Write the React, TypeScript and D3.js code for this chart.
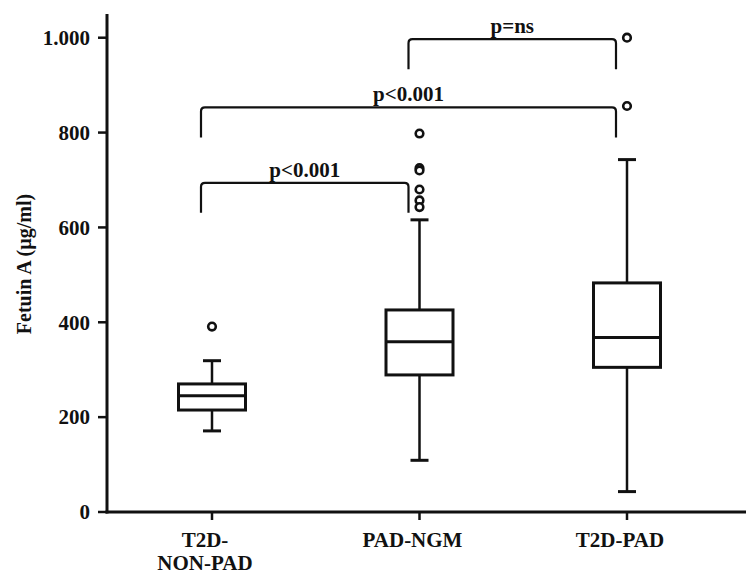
import React from "react";
import * as d3 from "d3";

const categories = ["T2D-NON-PAD", "PAD-NGM", "T2D-PAD"];
const categoryLabels = [["T2D-", "NON-PAD"], ["PAD-NGM"], ["T2D-PAD"]];
const whiskerLow = [171, 109, 43];
const q1Values = [215, 289, 305];
const medians = [245, 359, 368];
const q3Values = [270, 426, 483];
const whiskerHigh = [319, 616, 743];
const outliers = [[391], [798, 725, 720, 680, 657, 643], [1000, 856]];
const yTicks = [0, 200, 400, 600, 800, 1000];
const yTickLabels = ["0", "200", "400", "600", "800", "1.000"];
const yTitle = "Fetuin A (µg/ml)";
const compFrom = ["PAD-NGM", "T2D-NON-PAD", "T2D-NON-PAD"];
const compTo = ["T2D-PAD", "T2D-PAD", "PAD-NGM"];
const compLevel = [997, 853, 694];
const compLabel = ["p=ns", "p<0.001", "p<0.001"];

const W = 746;
const H = 576;
const FONT = "'Liberation Serif', 'Times New Roman', serif";
const INK = "#111";

export default function App() {
  const axisX = 107;
  const axisY = 512;
  const y = d3.scaleLinear().domain([0, 1050]).range([axisY, 14]);
  const x = d3.scalePoint<string>().domain(categories).range([212, 627]);
  const boxW = 67;
  const capW = 18;
  const legLen = 30;
  const bOff = -11;
  const r = 4;

  const bracketPath = (x1: number, x2: number, yt: number) => {
    const yb = yt + legLen;
    return `M${x1},${yb} L${x1},${yt + r} Q${x1},${yt} ${x1 + r},${yt} L${x2 - r},${yt} Q${x2},${yt} ${x2},${yt + r} L${x2},${yb}`;
  };

  return (
    <svg
      width={W}
      height={H}
      viewBox={`0 0 ${W} ${H}`}
      style={{ position: "absolute", left: 0, top: 0, background: "#fff" }}
      fontFamily={FONT}
      fontWeight="bold"
    >
      <rect x={0} y={0} width={W} height={H} fill="#fff" />
      {/* axes */}
      <line x1={axisX} x2={axisX} y1={y(1050)} y2={axisY + 1.5} stroke={INK} strokeWidth={3} />
      <line x1={axisX - 1.5} x2={W} y1={axisY} y2={axisY} stroke={INK} strokeWidth={3} />
      {yTicks.map((t, i) => (
        <g key={t}>
          <line x1={axisX - 9} x2={axisX} y1={y(t)} y2={y(t)} stroke={INK} strokeWidth={2.5} />
          <text x={axisX - 17} y={y(t)} dy="0.35em" textAnchor="end" fontSize={21} fill={INK}>
            {yTickLabels[i]}
          </text>
        </g>
      ))}
      <text
        transform={`translate(31,264) rotate(-90)`}
        textAnchor="middle"
        fontSize={20}
        fill={INK}
      >
        {yTitle}
      </text>
      {categories.map((c, i) => (
        <g key={c}>
          <line x1={x(c)!} x2={x(c)!} y1={axisY} y2={axisY + 8} stroke={INK} strokeWidth={2.5} />
          {categoryLabels[i].map((l, j) => (
            <text key={j} x={x(c)! - 7} y={547 + j * 23} textAnchor="middle" fontSize={21} fill={INK}>
              {l}
            </text>
          ))}
        </g>
      ))}
      {/* boxes */}
      {categories.map((c, i) => {
        const cx = x(c)!;
        return (
          <g key={c} stroke={INK} fill="none">
            <line x1={cx} x2={cx} y1={y(whiskerLow[i])} y2={y(q1Values[i])} strokeWidth={2.5} />
            <line x1={cx} x2={cx} y1={y(q3Values[i])} y2={y(whiskerHigh[i])} strokeWidth={2.5} />
            <line x1={cx - capW / 2} x2={cx + capW / 2} y1={y(whiskerLow[i])} y2={y(whiskerLow[i])} strokeWidth={3} />
            <line x1={cx - capW / 2} x2={cx + capW / 2} y1={y(whiskerHigh[i])} y2={y(whiskerHigh[i])} strokeWidth={3} />
            <rect
              x={cx - boxW / 2}
              y={y(q3Values[i])}
              width={boxW}
              height={y(q1Values[i]) - y(q3Values[i])}
              fill="#fff"
              strokeWidth={3}
            />
            <line x1={cx - boxW / 2} x2={cx + boxW / 2} y1={y(medians[i])} y2={y(medians[i])} strokeWidth={3} />
            {outliers[i].map((o, k) => (
              <circle key={k} cx={cx} cy={y(o)} r={3.8} strokeWidth={2.6} fill="#fff" />
            ))}
          </g>
        );
      })}
      {/* comparison brackets */}
      {compLabel.map((lab, i) => {
        const x1 = x(compFrom[i])! + bOff;
        const x2 = x(compTo[i])! + bOff;
        const yt = y(compLevel[i]);
        return (
          <g key={i}>
            <path d={bracketPath(x1, x2, yt)} fill="none" stroke={INK} strokeWidth={2.2} />
            <text x={(x1 + x2) / 2} y={yt - 6} textAnchor="middle" fontSize={21} fill={INK}>
              {lab}
            </text>
          </g>
        );
      })}
    </svg>
  );
}
